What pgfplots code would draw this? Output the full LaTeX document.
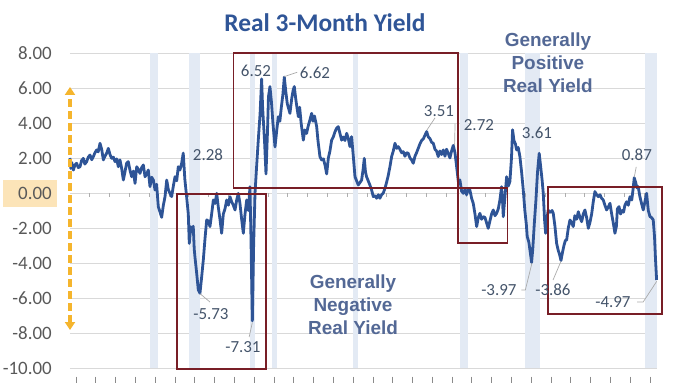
\documentclass[border=0pt]{standalone}
\usepackage{fontspec}
\setmainfont{Carlito}
\newfontfamily\arialfont{Liberation Sans}
\usepackage{pgfplots}
\pgfplotsset{compat=1.18}
\usetikzlibrary{arrows.meta}
\definecolor{lineblue}{RGB}{46,84,150}
\definecolor{titleblue}{RGB}{47,85,151}
\definecolor{annblue}{RGB}{83,104,149}
\definecolor{labelgray}{RGB}{68,84,106}
\definecolor{tickgray}{RGB}{89,89,89}
\definecolor{gridgray}{RGB}{217,217,217}
\definecolor{boxred}{RGB}{120,30,38}
\definecolor{bandblue}{RGB}{227,234,244}
\definecolor{arroworange}{RGB}{245,181,45}
\definecolor{hlorange}{RGB}{252,228,184}
\definecolor{leadergray}{RGB}{170,170,170}
\pgfplotstableread{
x y
1962.00 2.00
1962.08 1.40
1962.17 1.75
1962.34 1.31
1962.50 1.60
1962.67 1.70
1962.83 1.45
1963.01 1.50
1963.17 1.85
1963.35 1.98
1963.50 1.65
1963.68 1.79
1963.85 2.05
1964.02 2.17
1964.20 1.90
1964.36 2.08
1964.52 2.30
1964.69 2.46
1964.85 2.35
1965.03 2.84
1965.20 2.50
1965.37 1.89
1965.53 2.10
1965.70 2.27
1965.87 2.55
1966.04 2.20
1966.21 1.98
1966.38 2.05
1966.55 1.79
1966.72 1.95
1966.88 1.50
1967.05 1.89
1967.22 1.40
1967.39 0.74
1967.55 1.20
1967.72 1.70
1967.89 1.79
1968.06 1.30
1968.23 0.93
1968.40 1.25
1968.57 0.55
1968.74 1.50
1968.90 1.35
1969.07 1.12
1969.24 1.45
1969.41 1.60
1969.58 0.93
1969.75 1.10
1969.91 1.31
1970.08 0.36
1970.25 0.90
1970.42 0.74
1970.59 0.17
1970.75 0.50
1970.92 -0.78
1971.10 -1.10
1971.26 -1.39
1971.43 -0.70
1971.60 -0.21
1971.77 0.74
1971.93 0.20
1972.10 -0.02
1972.27 -0.21
1972.44 0.40
1972.61 0.93
1972.78 0.70
1972.94 1.50
1973.11 1.31
1973.28 1.70
1973.44 2.28
1973.60 0.80
1973.78 -0.21
1973.95 -1.20
1974.05 -2.88
1974.20 -1.93
1974.30 -2.20
1974.45 -1.90
1974.55 -3.20
1974.62 -3.64
1974.80 -4.60
1974.96 -5.54
1975.13 -5.73
1975.30 -4.80
1975.47 -3.81
1975.64 -2.60
1975.81 -1.54
1975.98 -1.60
1976.14 -1.92
1976.31 -1.20
1976.48 -0.40
1976.65 -0.60
1976.82 -0.02
1976.98 -0.80
1977.15 -1.50
1977.32 -2.30
1977.49 -1.20
1977.66 -0.90
1977.83 -0.40
1978.00 -0.70
1978.16 -0.21
1978.33 -0.50
1978.50 -0.70
1978.67 -0.97
1978.84 -0.40
1979.00 -0.02
1979.17 -0.60
1979.34 -1.50
1979.51 -2.30
1979.68 -1.20
1979.85 -0.40
1980.02 -1.00
1980.18 0.36
1980.28 -2.50
1980.42 -7.31
1980.55 -3.00
1980.69 -0.02
1980.85 1.50
1981.02 3.02
1981.20 4.50
1981.36 6.52
1981.45 5.00
1981.53 4.17
1981.65 3.00
1981.80 1.09
1981.95 3.50
1982.05 5.50
1982.20 6.08
1982.35 5.20
1982.50 4.00
1982.71 2.63
1982.87 3.50
1983.04 4.36
1983.20 4.10
1983.35 4.90
1983.50 5.60
1983.65 6.62
1983.80 5.80
1983.95 5.10
1984.10 4.80
1984.22 4.55
1984.40 5.40
1984.55 5.90
1984.66 6.08
1984.80 5.40
1984.95 4.80
1985.07 4.36
1985.20 4.90
1985.35 4.00
1985.57 3.02
1985.72 3.60
1985.90 3.40
1986.05 3.80
1986.25 4.20
1986.41 4.55
1986.55 4.10
1986.70 4.40
1986.92 3.79
1987.05 3.00
1987.25 2.08
1987.42 1.89
1987.60 1.95
1987.76 1.60
1987.93 1.09
1988.10 2.00
1988.26 2.40
1988.43 3.02
1988.60 3.20
1988.77 3.50
1988.93 3.70
1989.10 3.79
1989.27 3.40
1989.44 3.02
1989.60 3.20
1989.78 3.00
1989.95 3.41
1990.12 3.10
1990.28 2.65
1990.45 3.22
1990.62 2.10
1990.79 0.93
1990.95 0.70
1991.12 0.46
1991.30 0.60
1991.46 0.74
1991.60 1.30
1991.73 1.98
1991.85 1.20
1991.96 0.93
1992.12 0.70
1992.30 0.45
1992.47 0.17
1992.64 -0.21
1992.80 -0.15
1992.98 -0.30
1993.15 -0.10
1993.31 -0.30
1993.48 -0.10
1993.65 0.00
1993.82 0.27
1993.98 0.60
1994.15 1.00
1994.32 1.50
1994.50 2.10
1994.66 2.40
1994.83 2.84
1995.00 2.55
1995.16 2.65
1995.33 2.50
1995.50 2.30
1995.67 2.36
1995.84 2.10
1996.00 2.30
1996.17 2.27
1996.34 2.00
1996.50 1.90
1996.68 1.70
1996.85 2.10
1997.01 2.30
1997.18 2.55
1997.35 2.80
1997.52 3.00
1997.70 3.10
1997.86 3.30
1998.03 3.51
1998.20 3.20
1998.37 3.10
1998.53 2.90
1998.70 2.84
1998.87 2.50
1999.03 2.40
1999.20 2.08
1999.37 2.40
1999.54 2.20
1999.71 2.46
1999.88 2.10
2000.04 2.50
2000.21 2.27
2000.38 2.00
2000.55 2.40
2000.72 2.72
2000.89 2.30
2001.06 1.50
2001.23 0.65
2001.39 0.74
2001.56 0.10
2001.73 -0.02
2001.90 0.20
2002.06 -0.10
2002.23 0.20
2002.40 0.17
2002.57 -0.30
2002.74 -0.60
2002.91 -1.20
2003.08 -1.92
2003.25 -1.40
2003.41 -1.16
2003.58 -1.50
2003.75 -1.35
2003.92 -1.40
2004.08 -1.70
2004.25 -2.02
2004.42 -1.60
2004.59 -1.20
2004.76 -0.97
2004.93 -1.30
2005.10 -1.16
2005.27 -0.90
2005.43 -0.40
2005.60 0.36
2005.70 -0.50
2005.77 -1.35
2005.94 -0.20
2006.11 0.93
2006.28 0.40
2006.44 0.65
2006.60 2.00
2006.71 3.61
2006.85 3.00
2007.00 2.80
2007.12 2.46
2007.28 2.60
2007.45 2.08
2007.62 1.20
2007.79 0.17
2007.95 -1.00
2008.10 -1.80
2008.19 -2.49
2008.35 -2.80
2008.50 -3.40
2008.63 -3.97
2008.75 -3.20
2008.90 -1.80
2009.07 -0.40
2009.23 1.20
2009.40 2.27
2009.55 1.50
2009.70 0.70
2009.81 -0.02
2009.95 -1.60
2010.05 -2.30
2010.15 -1.60
2010.31 -0.97
2010.38 -1.07
2010.55 -1.10
2010.70 -1.00
2010.82 -1.16
2010.99 -1.90
2011.16 -2.88
2011.33 -3.30
2011.45 -3.50
2011.60 -3.86
2011.75 -3.40
2011.90 -3.00
2012.05 -2.70
2012.17 -2.69
2012.34 -2.00
2012.51 -1.54
2012.67 -1.70
2012.84 -1.92
2013.00 -1.30
2013.18 -1.50
2013.35 -1.07
2013.52 -1.40
2013.69 -1.64
2013.85 -1.20
2014.02 -0.97
2014.19 -1.40
2014.36 -2.02
2014.52 -1.70
2014.70 -1.20
2014.86 -0.50
2015.03 0.08
2015.20 -0.10
2015.37 -0.21
2015.54 -0.10
2015.70 -0.30
2015.87 -0.40
2016.04 -0.70
2016.21 -0.97
2016.38 -0.80
2016.55 -0.59
2016.72 -1.20
2016.88 -1.70
2017.05 -2.30
2017.20 -1.90
2017.30 -0.90
2017.46 -0.78
2017.62 -1.20
2017.78 -1.00
2017.92 -1.10
2018.06 -0.69
2018.23 -0.50
2018.40 -0.70
2018.57 -0.21
2018.75 -0.40
2018.88 0.20
2019.00 0.87
2019.15 0.60
2019.27 0.30
2019.40 0.36
2019.57 -0.20
2019.74 -0.60
2019.91 -0.97
2020.08 -0.50
2020.25 -0.02
2020.42 -1.00
2020.59 -1.35
2020.75 -1.40
2020.92 -1.54
2021.05 -2.50
2021.15 -3.80
2021.26 -4.97
}\realdata
\begin{document}
\begin{tikzpicture}
\begin{axis}[
  at={(0,0)}, anchor=south west,
  scale only axis, width=587bp, height=315bp,
  xmin=1962, xmax=2021.3, ymin=-10, ymax=8,
  clip=false,
  axis line style={draw=none},
  xtick=\empty,
  ytick={-10,-8,-6,-4,-2,0,2,4,6,8},
  yticklabels={-10.00,-8.00,-6.00,-4.00,-2.00,{},2.00,4.00,6.00,8.00},
  yticklabel style={font=\fontsize{19}{19}\selectfont, text=tickgray, inner sep=0pt, xshift=-18bp},
  major tick length=0pt,
  ymajorgrids, grid style={draw=gridgray, line width=0.9bp},
]
\fill[bandblue] (axis cs:1970.08,-10) rectangle (axis cs:1970.89,8);
\fill[bandblue] (axis cs:1974.02,-10) rectangle (axis cs:1975.13,8);
\fill[bandblue] (axis cs:1980.18,-10) rectangle (axis cs:1980.69,8);
\fill[bandblue] (axis cs:1982.40,-10) rectangle (axis cs:1982.90,8);
\fill[bandblue] (axis cs:1990.60,-10) rectangle (axis cs:1991.10,8);
\fill[bandblue] (axis cs:2001.40,-10) rectangle (axis cs:2002.20,8);
\fill[bandblue] (axis cs:2008.00,-10) rectangle (axis cs:2009.50,8);
\fill[bandblue] (axis cs:2020.10,-10) rectangle (axis cs:2021.30,8);
\fill[hlorange] (axis cs:1955.23,0.74) rectangle (axis cs:1960.69,-0.8);
\node[anchor=east, inner sep=0pt, font=\fontsize{19}{19}\selectfont, text=tickgray] at (axis cs:1960.18,0) {0.00};
\pgfplotsinvokeforeach{1964,1966,1968,1970,1972,1974,1976,1978,1980,1982,1984,1986,1988,1990,1992,1994,1996,1998,2000,2002,2004,2006,2008,2010,2012,2014,2016,2018,2020}{\draw[gridgray!80!black, line width=0.7bp] (axis cs:#1,0) -- (axis cs:#1,-0.23);}
\pgfplotsinvokeforeach{1962.6,1964.6,1966.6,1968.6,1970.6,1972.6,1974.6,1976.6,1978.6,1980.6,1982.6,1984.6,1986.6,1988.6,1990.6,1992.6,1994.6,1996.6,1998.6,2000.6,2002.6,2004.6,2006.6,2008.6,2010.6,2012.6,2014.6,2016.6,2018.6,2020.6}{\draw[tickgray!70, line width=0.8bp] (axis cs:#1,-10.5) -- (axis cs:#1,-10.85);}
\addplot[lineblue, line width=2.8bp, line join=round, mark=none] table[x=x,y=y] {\realdata};
% boxes
\draw[boxred, line width=1.6bp] (axis cs:1972.8,-0.05) rectangle (axis cs:1981.8,-10.05);
\draw[boxred, line width=1.6bp] (axis cs:1978.5,8.0) rectangle (axis cs:2001.2,0.29);
\draw[boxred, line width=1.6bp] (axis cs:2001.2,0.29) rectangle (axis cs:2006.2,-2.86);
\draw[boxred, line width=1.6bp] (axis cs:2010.3,0.34) rectangle (axis cs:2021.8,-6.9);
% arrow
\draw[arroworange, line width=3.2bp, dash pattern=on 8bp off 4bp, {Triangle[length=8bp,width=10bp]}-{Triangle[length=8bp,width=10bp]}] (axis cs:1962,-7.83) -- (axis cs:1962,6.06);
% leaders
\draw[leadergray, line width=0.7bp] (axis cs:1983.65,6.65) -- (axis cs:1984.95,6.9);
\draw[leadergray, line width=0.7bp] (axis cs:1998.06,3.6) -- (axis cs:1998.87,4.29);
\draw[leadergray, line width=0.7bp] (axis cs:2000.85,2.75) -- (axis cs:2000.9,3.97);
\draw[leadergray, line width=0.7bp] (axis cs:2019.0,0.9) -- (axis cs:2019.2,1.49);
\draw[leadergray, line width=0.7bp] (axis cs:2008.67,-4.0) -- (axis cs:2008.0,-5.54) -- (axis cs:2007.6,-5.54);
\draw[leadergray, line width=0.7bp] (axis cs:2011.6,-3.9) -- (axis cs:2010.8,-4.97);
\draw[leadergray, line width=0.7bp] (axis cs:2021.27,-5.05) -- (axis cs:2019.9,-6.23) -- (axis cs:2019.3,-6.23);
\draw[leadergray, line width=0.7bp] (axis cs:1975.13,-5.75) -- (axis cs:1976.14,-6.23);
\draw[leadergray, line width=0.7bp] (axis cs:1980.42,-7.4) -- (axis cs:1980.1,-8.23);
% data labels
\node[font=\fontsize{17}{17}\selectfont, text=labelgray, inner sep=0pt] at (axis cs:1975.94,2.17) {2.28};
\node[font=\fontsize{17}{17}\selectfont, text=labelgray, inner sep=0pt] at (axis cs:1980.79,6.97) {6.52};
\node[font=\fontsize{17}{17}\selectfont, text=labelgray, inner sep=0pt] at (axis cs:1986.75,6.86) {6.62};
\node[font=\fontsize{17}{17}\selectfont, text=labelgray, inner sep=0pt] at (axis cs:1999.27,4.69) {3.51};
\node[font=\fontsize{17}{17}\selectfont, text=labelgray, inner sep=0pt] at (axis cs:2003.31,3.89) {2.72};
\node[font=\fontsize{17}{17}\selectfont, text=labelgray, inner sep=0pt] at (axis cs:2009.17,3.43) {3.61};
\node[font=\fontsize{17}{17}\selectfont, text=labelgray, inner sep=0pt] at (axis cs:2019.27,2.17) {0.87};
\node[font=\fontsize{17}{17}\selectfont, text=labelgray, inner sep=0pt] at (axis cs:2005.33,-5.54) {-3.97};
\node[font=\fontsize{17}{17}\selectfont, text=labelgray, inner sep=0pt] at (axis cs:2010.79,-5.54) {-3.86};
\node[font=\fontsize{17}{17}\selectfont, text=labelgray, inner sep=0pt] at (axis cs:2016.85,-6.23) {-4.97};
\node[font=\fontsize{17}{17}\selectfont, text=labelgray, inner sep=0pt] at (axis cs:1976.24,-6.91) {-5.73};
\node[font=\fontsize{17}{17}\selectfont, text=labelgray, inner sep=0pt] at (axis cs:1979.47,-8.8) {-7.31};
% title and annotations
\node[anchor=base, font=\bfseries\fontsize{25.5}{25.5}\selectfont, text=titleblue, inner sep=0pt] at (axis cs:1987.76,9.2) {Real 3-Month Yield};
\node[align=center, font=\arialfont\bfseries\fontsize{19}{23}\selectfont, text=annblue, inner sep=0pt] at (axis cs:1990.59,-6.4) {Generally\\Negative\\Real Yield};
\node[align=center, font=\arialfont\bfseries\fontsize{19}{23}\selectfont, text=annblue, inner sep=0pt] at (axis cs:2010.28,7.43) {Generally\\Positive\\Real Yield};
\end{axis}
\path[use as bounding box] (-70bp,-15bp) rectangle (610bp,368bp);
\end{tikzpicture}
\end{document}
